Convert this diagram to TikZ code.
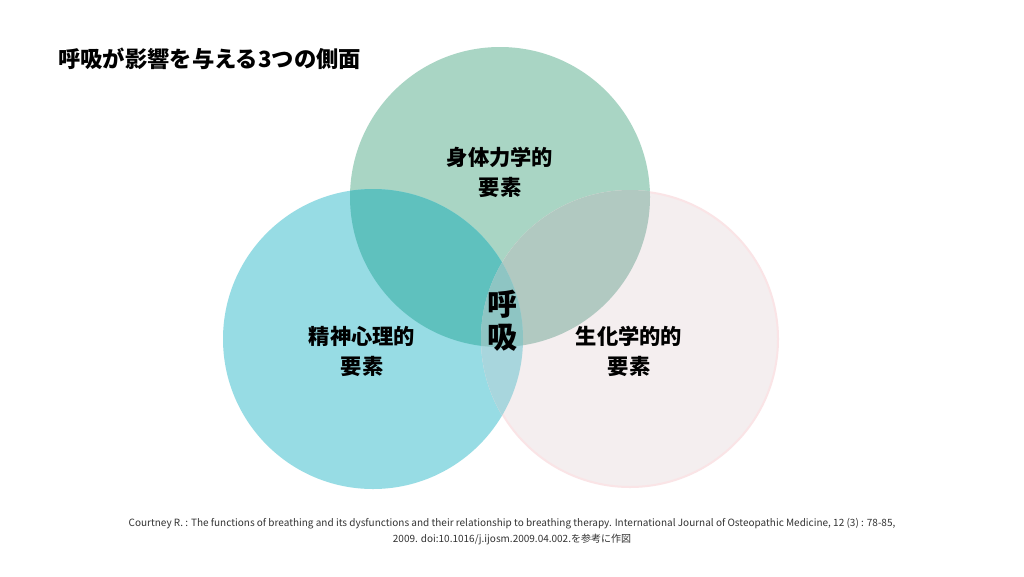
\documentclass[tikz,border=0pt]{standalone}
\usepackage{fontspec}
\newfontfamily\jp{Noto Sans CJK JP}
\definecolor{cgreen}{HTML}{A9D5C4}
\definecolor{ccyan}{HTML}{97DCE4}
\definecolor{cpink}{HTML}{F4EEEF}
\definecolor{cGC}{HTML}{5FC1BE}
\definecolor{cGP}{HTML}{B1C9C1}
\definecolor{cCP}{HTML}{A8D6DD}
\definecolor{cAll}{HTML}{8EC5C3}
\definecolor{pinkedge}{HTML}{FAE4E6}
\begin{document}
\begin{tikzpicture}[x=1pt,y=-1pt,
  lab/.style={align=center,font=\jp\bfseries\fontsize{21.3}{30}\selectfont,inner sep=0pt},
  core/.style={align=center,font=\jp\bfseries\fontsize{30}{33}\selectfont,inner sep=0pt},
  ttl/.style={anchor=west,font=\jp\bfseries\fontsize{22.3}{26}\selectfont,inner sep=0pt},
  cite/.style={align=center,font=\jp\fontsize{10}{16}\selectfont,inner sep=0pt,text=black!80}]
\useasboundingbox (0,0) rectangle (1024,576);
\fill[white] (0,0) rectangle (1024,576);
\coordinate (cT) at (500,197);
\coordinate (cL) at (373,339);
\coordinate (cR) at (630,339);
\fill[cgreen] (cT) circle (150pt);
\fill[ccyan] (cL) circle (150pt);
\draw[pinkedge,line width=2pt,fill=cpink] (cR) circle (148pt);
\begin{scope}
  \clip (cT) circle (150pt);
  \fill[cGC] (cL) circle (150pt);
  \fill[cGP] (cR) circle (149pt);
\end{scope}
\begin{scope}
  \clip (cL) circle (150pt);
  \fill[cCP] (cR) circle (149pt);
\end{scope}
\begin{scope}
  \clip (cT) circle (150pt);
  \clip (cL) circle (150pt);
  \fill[cAll] (cR) circle (149pt);
\end{scope}
\node[ttl] (title) at (58,59) {呼吸が影響を与える3つの側面};
\node[lab] (top) at (500,172) {身体力学的\\要素};
\node[lab] (left) at (362,351) {精神心理的\\要素};
\node[lab] (right) at (629,351) {生化学的的\\要素};
\node[core] (mid) at (502,321) {呼\\吸};
\node[cite] (ref) at (512,532) {Courtney R. : The functions of breathing and its dysfunctions and their relationship to breathing therapy. International Journal of Osteopathic Medicine, 12 (3) : 78-85,\\2009. doi:10.1016/j.ijosm.2009.04.002.を参考に作図};
\end{tikzpicture}
\end{document}
